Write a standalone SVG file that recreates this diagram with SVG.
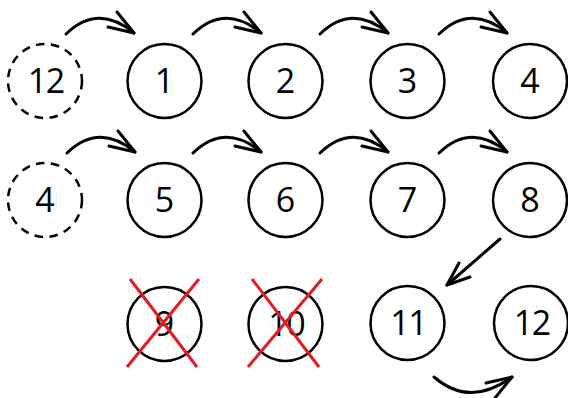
<svg xmlns="http://www.w3.org/2000/svg" width="568" height="398" viewBox="0 0 568 398">
<style>
.n{fill:none;stroke:#000;stroke-width:2.5}
.d{fill:none;stroke:#000;stroke-width:2.5;stroke-dasharray:8.5 6.5}
.t{font-family:"Open Sans","Noto Sans",sans-serif;font-size:34px;text-anchor:middle;fill:#000}
.w{letter-spacing:-1.5px}
.a{fill:none;stroke:#000;stroke-width:3;stroke-linecap:round;stroke-linejoin:round}
.x{stroke:#e31b23;stroke-width:3}
</style>
<defs>
<g id="arc"><path d="M0,0 Q32,-31 68,-1"/><path d="M51,-22 L68,-1 L42,-7"/></g>
</defs>
<g id="n12a"><circle class="d" cx="45" cy="81" r="37"/><text class="t w" x="45.7" y="93">12</text></g>
<g id="n1"><circle class="n" cx="164.5" cy="81" r="37"/><text class="t" x="164.5" y="93">1</text></g>
<g id="n2"><circle class="n" cx="285.5" cy="81" r="37"/><text class="t" x="285.5" y="93">2</text></g>
<g id="n3"><circle class="n" cx="407.5" cy="81" r="37"/><text class="t" x="407.5" y="93">3</text></g>
<g id="n4"><circle class="n" cx="530" cy="81" r="37"/><text class="t" x="530" y="93">4</text></g>
<g id="n4a"><circle class="d" cx="45" cy="200" r="37"/><text class="t" x="45" y="212">4</text></g>
<g id="n5"><circle class="n" cx="164.5" cy="200" r="37"/><text class="t" x="164.5" y="212">5</text></g>
<g id="n6"><circle class="n" cx="285.5" cy="200" r="37"/><text class="t" x="285.5" y="212">6</text></g>
<g id="n7"><circle class="n" cx="407.5" cy="200" r="37"/><text class="t" x="407.5" y="212">7</text></g>
<g id="n8"><circle class="n" cx="530" cy="200" r="37"/><text class="t" x="530" y="212">8</text></g>
<g id="n9"><circle class="n" cx="164.5" cy="324" r="37"/><text class="t" x="164.5" y="336">9</text><path class="x" d="M130,279 L197,367 M199,279 L127,367"/></g>
<g id="n10"><circle class="n" cx="285.5" cy="324" r="37"/><text class="t w" x="286.2" y="336">10</text><path class="x" d="M252,279 L319,367 M322,279 L248,367"/></g>
<g id="n11"><circle class="n" cx="407.5" cy="323" r="37"/><text class="t w" x="408.2" y="335">11</text></g>
<g id="n12"><circle class="n" cx="531" cy="323" r="37"/><text class="t w" x="531.7" y="335">12</text></g>
<g id="connectors" class="a">
<use href="#arc" x="66" y="34"/>
<use href="#arc" x="193" y="34"/>
<use href="#arc" x="320" y="34"/>
<use href="#arc" x="439" y="34"/>
<use href="#arc" x="67" y="153"/>
<use href="#arc" x="193" y="153"/>
<use href="#arc" x="320" y="153"/>
<use href="#arc" x="439" y="153"/>
<path d="M500,239 L447,285"/><path d="M459,263 L447,285 L470,277"/>
<path d="M434,377 Q470,408 512,377"/><path d="M495,398 L512,377 L486,383"/>
</g>
</svg>
